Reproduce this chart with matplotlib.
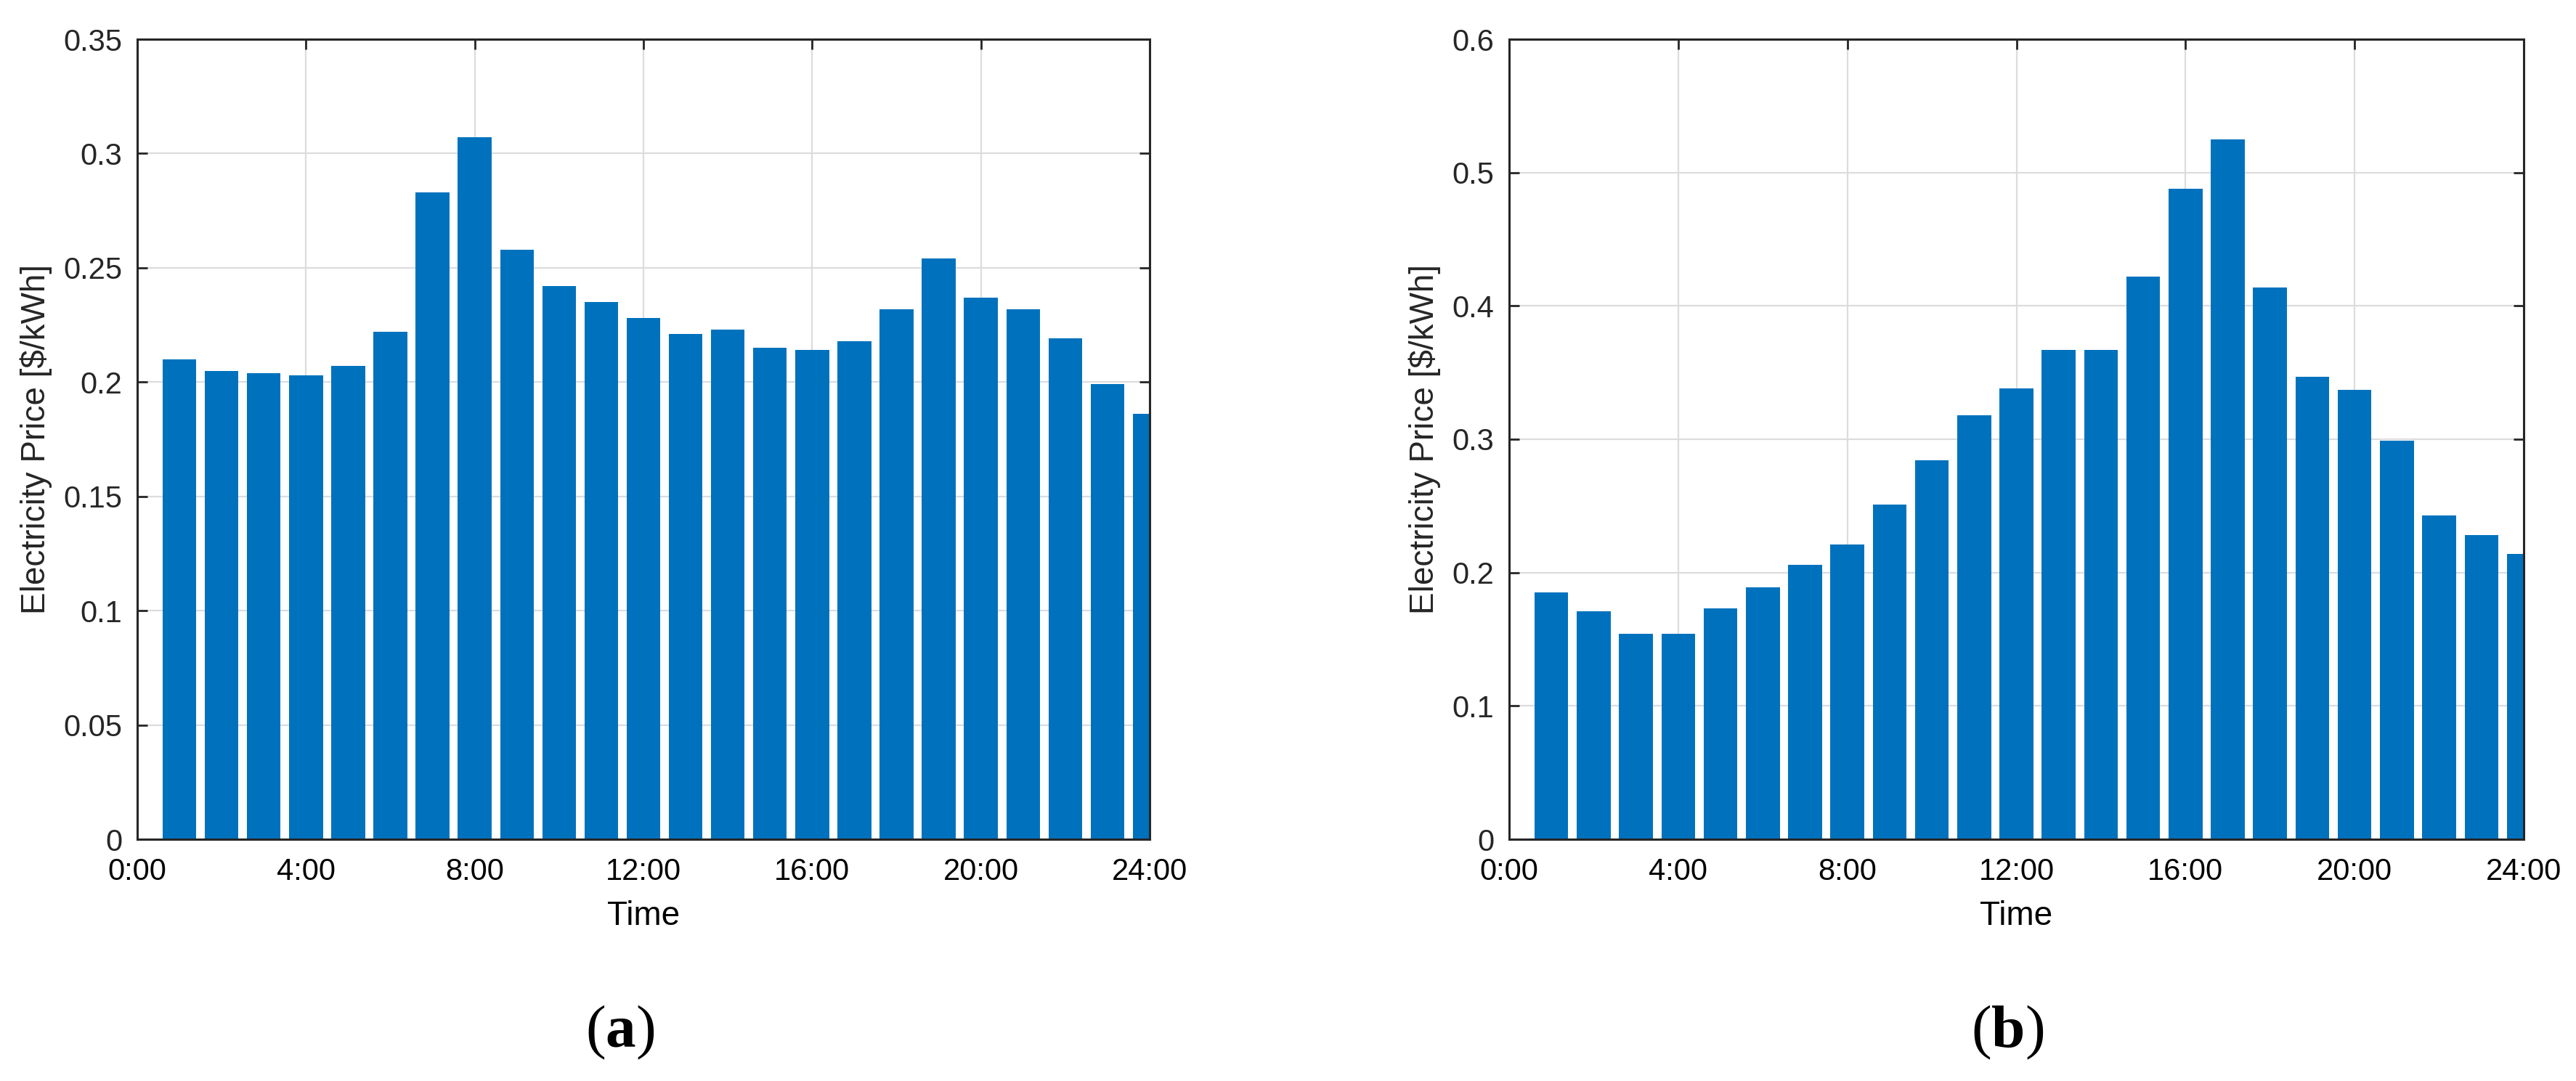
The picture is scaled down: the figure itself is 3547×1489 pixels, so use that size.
import matplotlib
matplotlib.use("Agg")
from matplotlib import pyplot as plt

hours = list(range(1, 25))
tickHours = [0, 4, 8, 12, 16, 20, 24]
tickLabels = ["0:00", "4:00", "8:00", "12:00", "16:00", "20:00", "24:00"]

# (a) hourly electricity price
priceA = [0.210, 0.205, 0.204, 0.203, 0.207, 0.222, 0.283, 0.307,
          0.258, 0.242, 0.235, 0.228, 0.221, 0.223, 0.215, 0.214,
          0.218, 0.232, 0.254, 0.237, 0.232, 0.219, 0.199, 0.186]

# (b) hourly electricity price
priceB = [0.185, 0.171, 0.154, 0.154, 0.173, 0.189, 0.206, 0.221,
          0.251, 0.284, 0.318, 0.338, 0.367, 0.367, 0.422, 0.488,
          0.525, 0.414, 0.347, 0.337, 0.299, 0.243, 0.228, 0.214]

yTicksA = [0, 0.05, 0.1, 0.15, 0.2, 0.25, 0.3, 0.35]
yTickLabelsA = ["0", "0.05", "0.1", "0.15", "0.2", "0.25", "0.3", "0.35"]
yTicksB = [0, 0.1, 0.2, 0.3, 0.4, 0.5, 0.6]
yTickLabelsB = ["0", "0.1", "0.2", "0.3", "0.4", "0.5", "0.6"]

plt.rcParams['font.family'] = ['Liberation Sans', 'DejaVu Sans']
plt.rcParams['mathtext.fontset'] = 'custom'
plt.rcParams['mathtext.rm'] = 'Liberation Serif'
plt.rcParams['mathtext.bf'] = 'Liberation Serif:bold'

W, H = 3547, 1489
fig = plt.figure(figsize=(W / 100, H / 100), dpi=100)


def makePanel(rect, values, yticks, yticklabels, ymax):
    ax = fig.add_axes(rect)
    ax.bar(hours, values, width=0.8, color="#0072BD", zorder=2)
    ax.set_xlim(0, 24)
    ax.set_ylim(0, ymax)
    ax.set_xticks(tickHours)
    ax.set_xticklabels(tickLabels, color="black")
    ax.set_yticks(yticks)
    ax.set_yticklabels(yticklabels, color="#262626")
    ax.grid(True, color="#dcdcdc", linewidth=1.6, zorder=0)
    ax.set_axisbelow(True)
    ax.tick_params(direction="in", top=True, right=True, length=10, width=2,
                   color="#262626", labelsize=30)
    ax.tick_params(axis="y", pad=15)
    ax.tick_params(axis="x", pad=18)
    for s in ax.spines.values():
        s.set_linewidth(2.2)
        s.set_color("#262626")
        s.set_zorder(3)
    ax.set_xlabel("Time", fontsize=33, labelpad=14)
    ax.set_ylabel("Electricity Price [$/kWh]", fontsize=33, color="#262626", labelpad=11)
    return ax


def rectFromPx(x0, x1, ytop, ybot):
    return [x0 / W, 1 - ybot / H, (x1 - x0) / W, (ybot - ytop) / H]


makePanel(rectFromPx(189, 1583, 54, 1156), priceA, yTicksA, yTickLabelsA, 0.35)
makePanel(rectFromPx(2078, 3475, 54, 1156), priceB, yTicksB, yTickLabelsB, 0.6)

fig.text(854 / W, 1 - 1422 / H, r"($\mathbf{a}$)", fontsize=60,
         family="Liberation Serif", ha="center", va="center")
fig.text(2764 / W, 1 - 1422 / H, r"($\mathbf{b}$)", fontsize=60,
         family="Liberation Serif", ha="center", va="center")

fig.savefig("out.png", dpi=100)
